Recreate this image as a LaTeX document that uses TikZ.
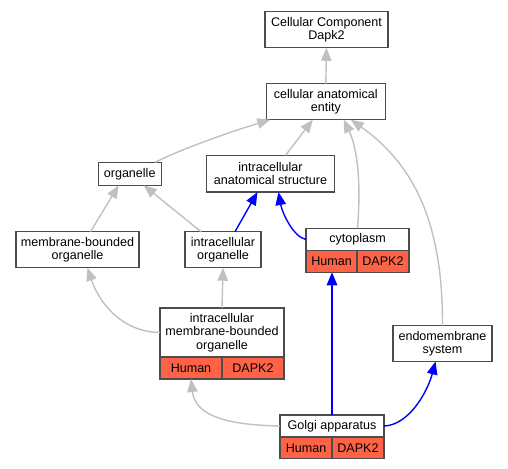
\documentclass[tikz,border=0pt]{standalone}
\usepackage{fontspec}
\setmainfont{Liberation Sans}
\usetikzlibrary{arrows.meta, positioning, calc}

\definecolor{tomato}{RGB}{255,99,71}
\definecolor{silver}{RGB}{192,192,192}
\definecolor{linkblue}{RGB}{0,0,255}

\begin{document}
\begin{tikzpicture}[x=1bp, y=-1bp, >={Triangle[length=13bp,width=10.5bp]},
  font=\fontsize{12.6}{13.4}\selectfont,
  term/.style={draw=black!70, fill=white, line width=1.3bp, shape=rectangle,
    inner sep=0pt, outer sep=0pt, align=center},
  cell/.style={term, fill=tomato, anchor=north west},
  isa/.style={->, draw=silver, line width=1.4bp},
  partof/.style={->, draw=linkblue, line width=1.4bp}]

  \useasboundingbox (0,0) rectangle (508,469);

  \node[term, minimum width=123bp, minimum height=36bp] (cc) at (326.5,29.8) {Cellular Component\\Dapk2};
  \node[term, minimum width=119bp, minimum height=36bp] (cae) at (325.8,101.7) {cellular anatomical\\entity};
  \node[term, minimum width=63bp, minimum height=23bp] (org) at (129.7,173.8) {organelle};
  \node[term, minimum width=128bp, minimum height=36.7bp] (ias) at (270.5,173.7) {intracellular\\anatomical structure};
  \node[term, minimum width=123bp, minimum height=36bp] (mbo) at (77.5,249.7) {membrane-bounded\\organelle};
  \node[term, minimum width=76bp, minimum height=36bp] (io) at (223,249.7) {intracellular\\organelle};
  \node[term, minimum width=99bp, minimum height=36bp] (endo) at (442.5,343.5) {endomembrane\\system};

  % annotated terms
  \node[term, minimum width=103bp, minimum height=22.5bp] (cyto) at (357.5,239.5) {cytoplasm};
  \node[cell, minimum width=51bp, minimum height=21.5bp] (cytoH) at (cyto.south west) {Human};
  \node[cell, minimum width=52bp, minimum height=21.5bp] (cytoD) at (cytoH.north east) {DAPK2};

  \node[term, minimum width=124bp, minimum height=49bp] (imbo) at (222,332.5) {intracellular\\membrane-bounded\\organelle};
  \node[cell, minimum width=62bp, minimum height=22bp] (imboH) at (imbo.south west) {Human};
  \node[cell, minimum width=62bp, minimum height=22bp] (imboD) at (imboH.north east) {DAPK2};

  \node[term, minimum width=104bp, minimum height=22bp] (golgi) at (332,426) {Golgi apparatus};
  \node[cell, minimum width=52bp, minimum height=21.5bp] (golgiH) at (golgi.south west) {Human};
  \node[cell, minimum width=52bp, minimum height=21.5bp] (golgiD) at (golgiH.north east) {DAPK2};

  \path
    (cae.north) edge[isa] (cc.south)
    ([xshift=15bp]ias.north) edge[isa] ([xshift=-13bp]cae.south)
    ([xshift=13bp]mbo.north) edge[isa] ([xshift=-11bp]org.south)
    ([xshift=-22bp]io.north) edge[isa] ([xshift=14bp]org.south)
    (imbo.north) edge[isa] (io.south)
    ([xshift=12bp]io.north) edge[partof] ([xshift=-13bp]ias.south)
    (golgi.north) edge[partof] (golgi.north |- cytoH.south);

  \draw[isa] ([xshift=-6bp]org.north east) .. controls (175,152) and (220,135) .. ([xshift=4bp]cae.south west);
  \draw[isa] (cyto.north) .. controls (361,185) and (358,150) .. ([xshift=18bp]cae.south);
  \draw[isa] (endo.north) .. controls (443,225) and (415,165) .. ([xshift=25bp]cae.south);
  \draw[isa] (imbo.west) .. controls (120,332) and (98,300) .. ([xshift=10bp]mbo.south);
  \draw[isa] (golgi.west) .. controls (225,425) and (195,415) .. (imboH.south);
  \draw[partof] (cyto.west) .. controls (293,237) and (282,212) .. ([xshift=8bp]ias.south);
  \draw[partof] (golgi.east) .. controls (410,425) and (428,390) .. ([xshift=-7bp]endo.south);
\end{tikzpicture}
\end{document}
